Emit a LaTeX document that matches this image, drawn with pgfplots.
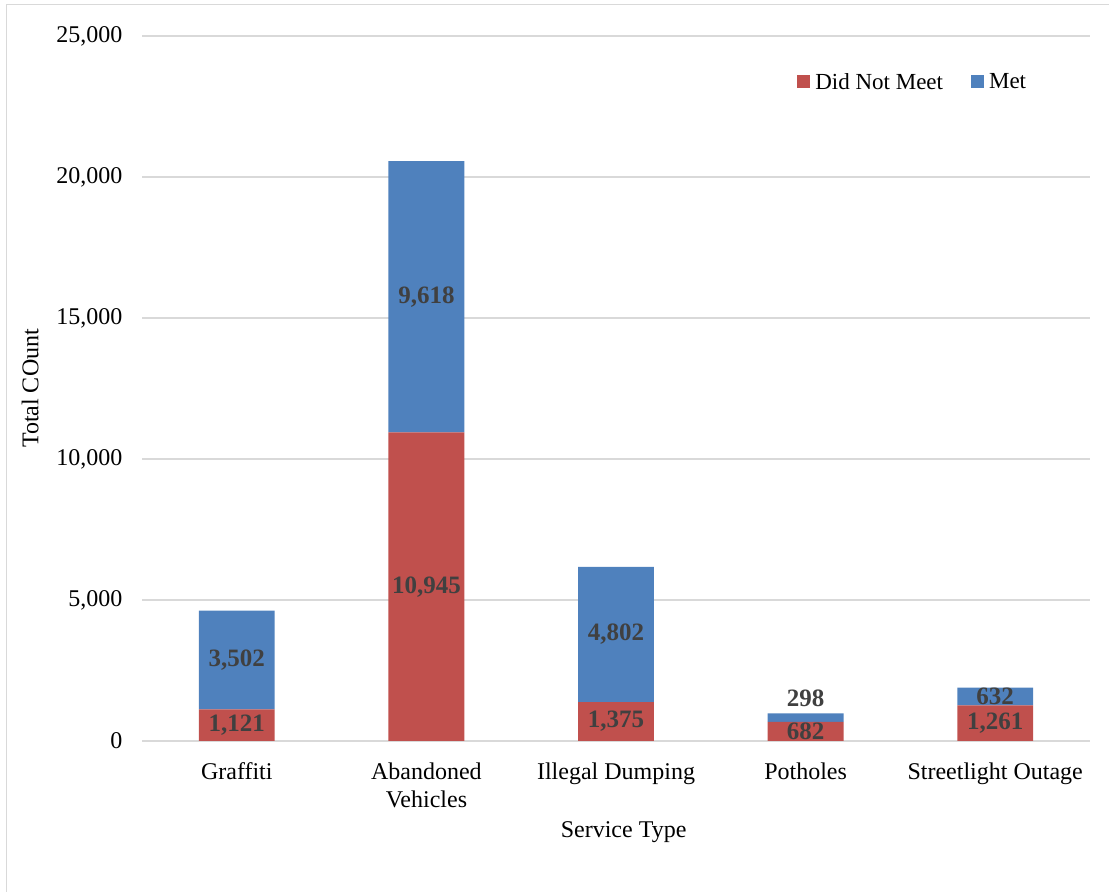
\documentclass[border=0pt]{standalone}
\usepackage{fontspec}
\setmainfont{Liberation Serif}
\usepackage{pgfplots}
\usepackage{pgfplotstable}
\pgfplotsset{compat=1.18}

\definecolor{notmet}{HTML}{C0504D}
\definecolor{met}{HTML}{4F81BD}
\definecolor{gridgray}{HTML}{D9D9D9}
\definecolor{labelgray}{HTML}{404040}

\pgfplotstableread{
x notmet met
0 1121  3502
1 10945 9618
2 1375  4802
3 682   298
4 1261  632
}\servicedata

% label anchors: middle of each segment (298 is set above its bar)
\pgfplotstableread{
x y text
0 560.5  1,121
0 2872   3,502
1 5472.5 10,945
1 15754  9,618
2 687.5  1,375
2 3776   4,802
3 341    682
3 1525   298
4 630.5  1,261
4 1577   632
}\labeldata

\pgfplotsset{
  squarelegend/.style={legend image code/.code={\fill[##1] (0bp,-6.5bp) rectangle (13bp,6.5bp);}},
  frame/.style={at={(142bp,151bp)}, anchor=south west,
    scale only axis, width=948bp, height=705bp,
    xmin=-0.5, xmax=4.5, ymin=0, ymax=25000},
}

\begin{document}
\begin{tikzpicture}
\path[use as bounding box] (0bp,0bp) rectangle (1109bp,892bp);
\draw[gridgray, line width=1.5bp] (6.5bp,0bp) -- (6.5bp,887.5bp) -- (1109bp,887.5bp);
\begin{axis}[
  frame,
  ybar stacked, bar width=0.4,
  xtick=data,
  xticklabels={Graffiti,{Abandoned\\Vehicles},Illegal Dumping,Potholes,Streetlight Outage},
  xticklabel style={align=center, font=\fontsize{24bp}{28bp}\selectfont, yshift=-18bp},
  ytick={0,5000,10000,15000,20000,25000},
  yticklabel style={font=\fontsize{24bp}{28bp}\selectfont, xshift=-16bp},
  /pgf/number format/assume math mode=true,
  /pgf/number format/1000 sep={,},
  scaled y ticks=false,
  major tick length=0pt,
  axis line style={draw=none},
  ymajorgrids, grid style={gridgray, line width=1.5bp},
  ylabel={Total COunt},
  ylabel style={font=\fontsize{24bp}{28bp}\selectfont, at={(axis description cs:-0.118,0.5)}, anchor=center},
  xlabel={Service Type},
  xlabel style={font=\fontsize{24bp}{28bp}\selectfont, at={(axis description cs:0.508,-0.129)}, anchor=center},
  legend columns=2,
  legend style={draw=none, fill=none, at={(axis description cs:0.813,0.935)}, anchor=center,
    font=\fontsize{23bp}{26bp}\selectfont,
    /tikz/every odd column/.append style={column sep=3bp},
    /tikz/every even column/.append style={column sep=26bp}},
  squarelegend,
]
\addplot[fill=notmet, draw=none] table[x=x, y=notmet] {\servicedata};
\addlegendentry{Did Not Meet}
\addplot[fill=met, draw=none] table[x=x, y=met] {\servicedata};
\addlegendentry{Met}
\end{axis}
% value labels on an overlaid axis so they sit above the bars
\begin{axis}[frame, hide axis]
\addplot[draw=none, mark=none, nodes near coords, point meta=explicit symbolic,
  every node near coord/.style={font=\bfseries\fontsize{25bp}{28bp}\selectfont, text=labelgray, anchor=center}]
  table[x=x, y=y, meta=text] {\labeldata};
\end{axis}
\end{tikzpicture}
\end{document}
